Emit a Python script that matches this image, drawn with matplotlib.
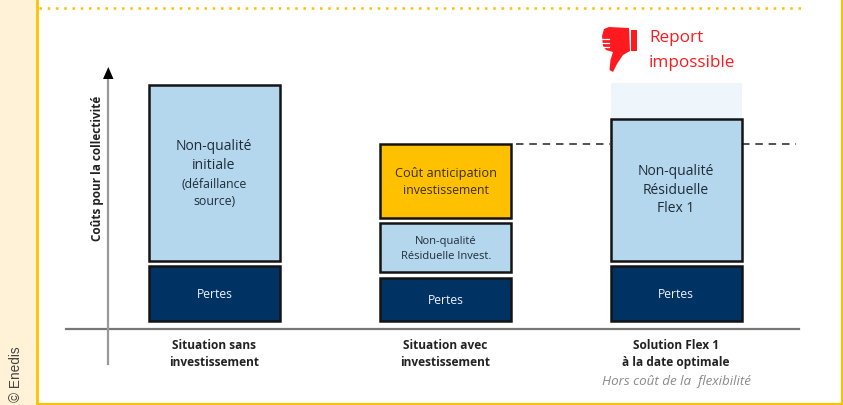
import matplotlib
matplotlib.use('Agg')
import matplotlib.pyplot as plt
from matplotlib.patches import Polygon, Rectangle

scenarios = ['Situation sans\ninvestissement', 'Situation avec\ninvestissement', 'Solution Flex 1\nà la date optimale']
scenario_pos = [214.5, 445.5, 676]
pertes = [55, 43, 55]
pertes_bottom = [8, 8, 8]
non_qualite = [176, 49, 142]
non_qualite_bottom = [68, 57, 68]
anticipation = [74]
anticipation_bottom = [111]
report_ghost = [36]
report_ghost_bottom = [210]
reference_level = 185

NAVY = '#003264'
LIGHT_BLUE = '#B4D7EE'
ORANGE = '#FFC000'
GHOST = '#EEF6FC'
EDGE = '#141414'
TEXT = '#1f2c38'
RED = '#FF1A1F'
BAR_W = 131

plt.rcParams['font.family'] = ['Open Sans', 'DejaVu Sans']

fig = plt.figure(figsize=(8.43, 4.05), dpi=100, facecolor='white')
ax = fig.add_axes([0, 0, 1, 1])
ax.set_xlim(0, 843)
ax.set_ylim(-76, 329)
ax.axis('off')

# Frame of the box around the chart
ax.add_patch(Rectangle((0, -76), 36, 405, facecolor='#FFF2D6', edgecolor='none', zorder=0))
ax.axvline(37, color=ORANGE, lw=2, zorder=1)
ax.axvline(842, color=ORANGE, lw=1.5, zorder=1)
ax.axhline(-75, xmin=37 / 843, color=ORANGE, lw=1.5, zorder=1)
ax.plot([39, 802], [321, 321], color=ORANGE, lw=1.8, ls=(0, (1, 2.3)), zorder=1)
ax.text(15.5, -73, '© Enedis', rotation=90, ha='center', va='bottom', fontsize=9.8,
        family=['Liberation Sans'], color='#444444')

# Stacked bars
ax.bar(scenario_pos, pertes, BAR_W, bottom=pertes_bottom, color=NAVY, edgecolor=EDGE, lw=1.8, zorder=3)
ax.bar(scenario_pos, non_qualite, BAR_W, bottom=non_qualite_bottom, color=LIGHT_BLUE, edgecolor=EDGE, lw=1.8, zorder=3)
ax.bar(scenario_pos[1], anticipation, BAR_W, bottom=anticipation_bottom, color=ORANGE, edgecolor=EDGE, lw=1.8, zorder=3)
ax.bar(scenario_pos[2], report_ghost, BAR_W, bottom=report_ghost_bottom, color=GHOST, edgecolor='none', zorder=2)

# Dashed level of the investment solution
dash = dict(color='#333333', lw=1.2, ls=(0, (4.5, 3.5)), zorder=2)
ax.plot([516, 610], [reference_level, reference_level], **dash)
ax.plot([742, 796], [reference_level, reference_level], **dash)

# Axes
ax.plot([66, 799], [0, 0], color='#777777', lw=1.6, zorder=2)
ax.plot([108, 108], [-35, 252], color='#999999', lw=1.6, zorder=2)
ax.add_patch(Polygon([[103, 250], [113.5, 250], [108.3, 262]], closed=True, facecolor='black', edgecolor='none', zorder=3))
ax.text(98, 161, 'Coûts pour la collectivité', rotation=90, ha='center', va='center',
        fontsize=8.5, fontweight='bold', color='#222222')

# Text inside the bars
for x, y in zip(scenario_pos, [34, 29, 34]):
    ax.text(x, y, 'Pertes', ha='center', va='center', fontsize=8.7, color='#EEF2F7')
ax.text(214, 173, 'Non-qualité\ninitiale', ha='center', va='center', fontsize=10, color=TEXT, linespacing=1.3)
ax.text(214, 136, '(défaillance\nsource)', ha='center', va='center', fontsize=8.8, color=TEXT, linespacing=1.35)
ax.text(446, 80, 'Non-qualité\nRésiduelle Invest.', ha='center', va='center', fontsize=8, color=TEXT, linespacing=1.6)
ax.text(446, 156, 'Coût anticipation', ha='center', va='center', fontsize=9.2, color='#3a3000')
ax.text(446, 139, 'investissement', ha='center', va='center', fontsize=8.8, color='#3a3000')
ax.text(676, 139, 'Non-qualité\nRésiduelle\nFlex 1', ha='center', va='center', fontsize=10, color=TEXT, linespacing=1.3)

# Labels under the baseline
for x, label in zip(scenario_pos, scenarios):
    ax.text(x, -10, label, ha='center', va='top', fontsize=8.6, fontweight='bold',
            color='#222222', linespacing=1.4)
ax.text(676, -53, 'Hors coût de la  flexibilité', ha='center', va='center', fontsize=9.6,
        style='italic', color='#8a8a8a')

# Red thumb down
ax.add_patch(Polygon([[609, 302], [629, 301], [630, 278], [623, 274], [617, 265], [613, 257],
                      [609.5, 259], [610.5, 269], [613, 277], [606, 279], [603, 283], [602, 293], [604, 300]],
                     closed=True, facecolor=RED, edgecolor='none', zorder=3))
for y in [290, 286, 282]:
    ax.plot([601, 609], [y, y], color='white', lw=0.9, zorder=4)
ax.add_patch(Rectangle((631, 278), 6, 21, facecolor=RED, edgecolor='none', zorder=3))
ax.text(649, 291, 'Report', ha='left', va='center', fontsize=12.3, color=RED)
ax.text(649, 266, 'impossible', ha='left', va='center', fontsize=12.3, color=RED)

fig.savefig('out.png', dpi=100, facecolor='white')
